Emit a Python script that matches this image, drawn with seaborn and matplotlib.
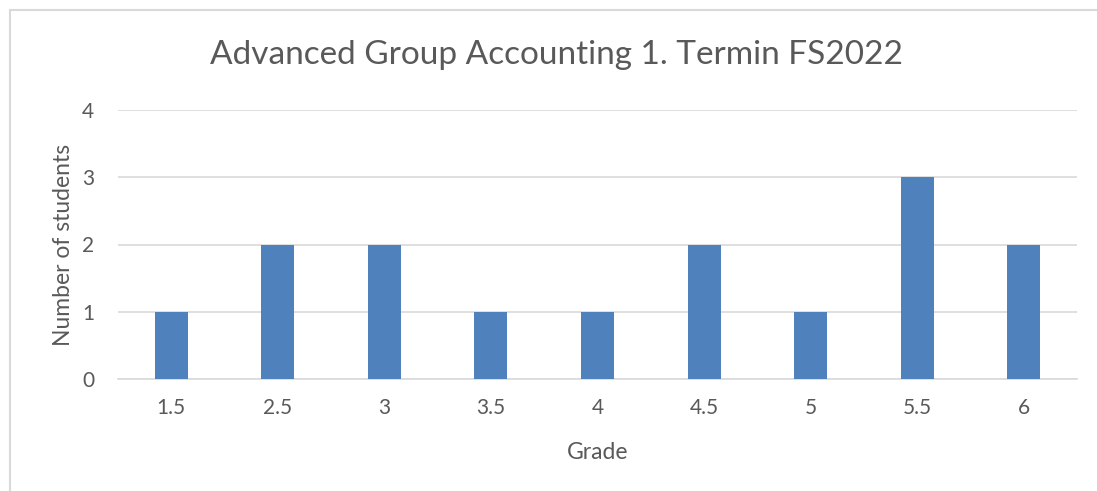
import matplotlib
matplotlib.use('Agg')
import matplotlib.pyplot as plt
import seaborn as sns
import pandas as pd
from matplotlib.patches import Rectangle

# grade distribution
grades = ['1.5', '2.5', '3', '3.5', '4', '4.5', '5', '5.5', '6']
students = [1, 2, 2, 1, 1, 2, 1, 3, 2]

sns.set_theme(style='white')
plt.rcParams['font.family'] = ['Lato', 'DejaVu Sans']

df = pd.DataFrame({'Grade': grades, 'Number of students': students})

fig = plt.figure(figsize=(10.97, 4.91), dpi=100)
ax = fig.add_axes([118 / 1097, 1 - 379 / 491, (1077 - 118) / 1097, (379 - 110) / 491])

sns.barplot(data=df, x='Grade', y='Number of students', color='#4F81BD',
            saturation=1, width=0.31, linewidth=0, ax=ax, zorder=3)

ax.set_ylim(0, 4)
ax.set_yticks([0, 1, 2, 3, 4])
ax.yaxis.grid(True, color='#D9D9D9', linewidth=1.2, zorder=0)
ax.set_axisbelow(True)
for s in ['top', 'right', 'left']:
    ax.spines[s].set_visible(False)
ax.spines['bottom'].set_color('#D9D9D9')
ax.spines['bottom'].set_linewidth(1.2)
ax.tick_params(axis='both', length=0, labelsize=15, colors='#595959')
ax.tick_params(axis='x', pad=14)
ax.tick_params(axis='y', pad=17)
ax.set_xlabel('Grade', fontsize=16.5, color='#595959', labelpad=17)
ax.set_ylabel('Number of students', fontsize=16.5, color='#595959', labelpad=6)

# title is centred on the chart area, not on the plot area
fig.text(557 / 1097, 1 - 55 / 491, 'Advanced Group Accounting 1. Termin FS2022',
         fontsize=24, color='#595959', ha='center', va='center')

# chart border
fig.patches.append(Rectangle((10 / 1097, -0.05), 1.05, 1 - 10 / 491 + 0.05,
                             transform=fig.transFigure, fill=False,
                             edgecolor='#D9D9D9', linewidth=1.5))

fig.savefig('out.png', dpi=100)
